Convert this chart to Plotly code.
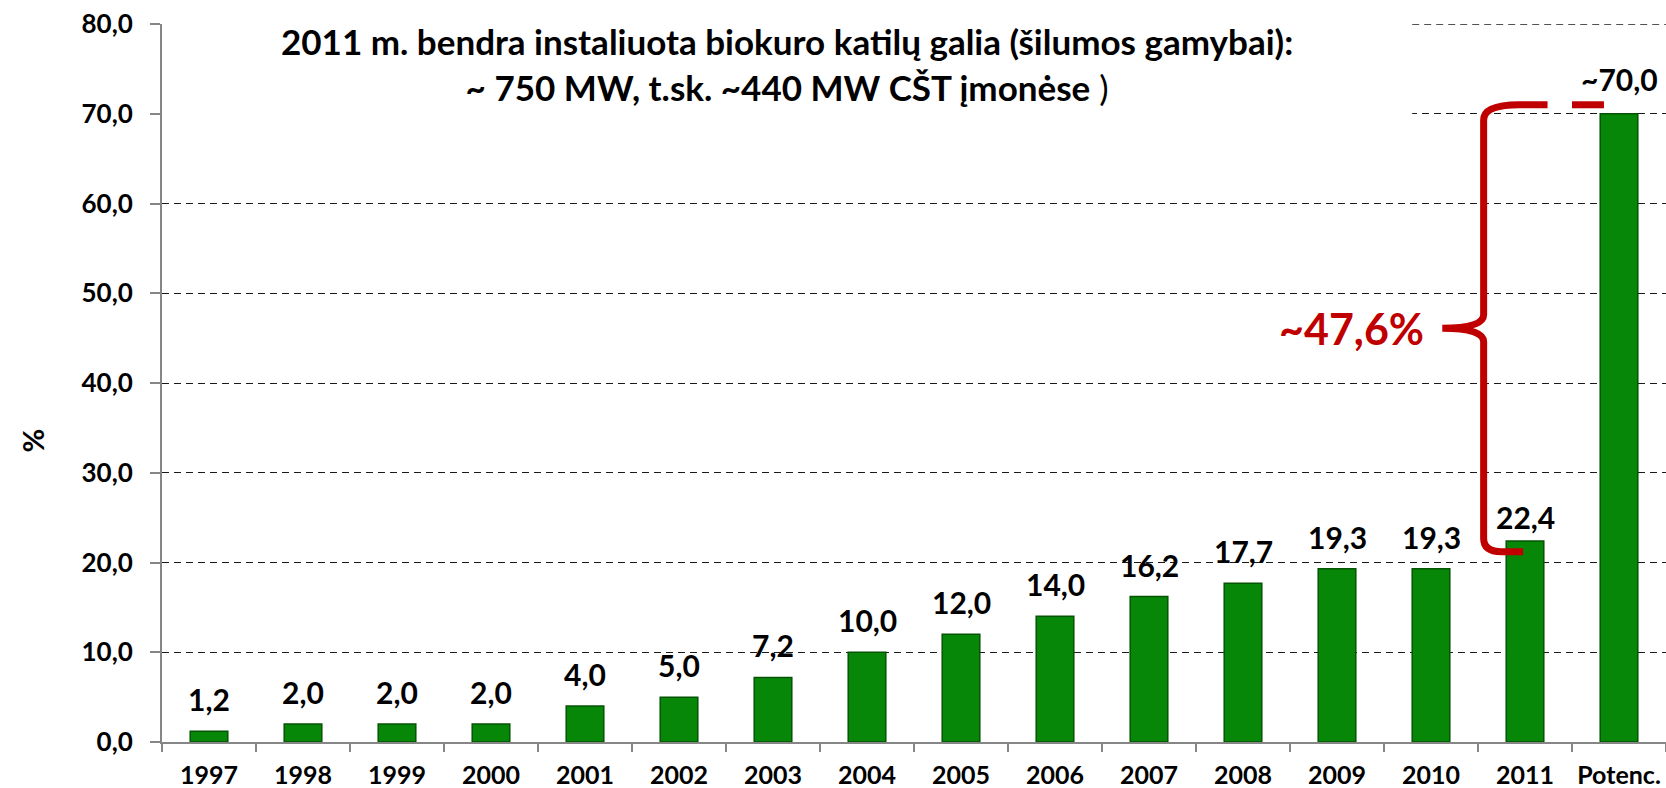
import plotly.graph_objects as go

# ---------------- data ----------------
categories = ["1997", "1998", "1999", "2000", "2001", "2002", "2003", "2004",
              "2005", "2006", "2007", "2008", "2009", "2010", "2011", "Potenc."]
values = [1.2, 2.0, 2.0, 2.0, 4.0, 5.0, 7.2, 10.0, 12.0, 14.0, 16.2, 17.7,
          19.3, 19.3, 22.4, 70.0]
label_prefix = [""] * 15 + ["~"]
y_tick_values = [0, 10, 20, 30, 40, 50, 60, 70, 80]
title_line1 = "2011 m. bendra instaliuota biokuro katilų galia (šilumos gamybai):"
title_line2 = "~ 750 MW, t.sk. ~440 MW CŠT įmonėse"
y_title = "%"


def fmt(v):
    return f"{v:.1f}".replace(".", ",")


labels = [p + fmt(v) for p, v in zip(label_prefix, values)]
gap_value = values[-1] - values[-2]
brace_label = "~" + fmt(gap_value) + "%"

FONT = "Lato"
GREEN = "#078707"
RED = "#C00000"

fig = go.Figure()
fig.add_trace(go.Bar(
    x=categories, y=values,
    marker=dict(color=GREEN, line=dict(color="#045404", width=1.5)),
    hoverinfo="skip",
))

# data labels above the bars (category index positions)
label_shift_adjust = {14: -8, 15: 3}
for i, (v, t) in enumerate(zip(values, labels)):
    fig.add_annotation(x=i, y=v, text=f"<b>{t}</b>", showarrow=False,
                       xanchor="center", yanchor="bottom",
                       yshift=12 + label_shift_adjust.get(i, 0),
                       font=dict(family=FONT, size=30, color="black"))

# title (white box hides top gridlines behind it)
fig.add_shape(type="rect", xref="x", yref="y", x0=-0.5, x1=12.8, y0=65, y1=81,
              fillcolor="white", line=dict(width=0), layer="between")
# top gridline visible to the right of the title box
fig.add_shape(type="line", xref="x", yref="y", x0=12.8, x1=15.5, y0=80, y1=80,
              line=dict(color="#1a1a1a", width=1.3, dash="7px,5px"), layer="between")
fig.add_annotation(xref="paper", yref="paper", x=0.4156, y=0.944,
                   xanchor="center", yanchor="middle", showarrow=False,
                   text=f"<b>{title_line1}</b><br><b>{title_line2}</b> )",
                   font=dict(family=FONT, size=35, color="black"))

# brace between 2011 value and potential
xv, xc, xb, xt = 13.56, 13.12, 13.98, 14.24
yb = values[-2] - 1.2
yt = values[-1] + 1.0
ym = (yb + yt) / 2
path = (f"M {xb},{yb} L 13.75,{yb} Q {xv},{yb} {xv},{yb + 1.5} "
        f"L {xv},{ym - 1.5} Q {xv},{ym} {xc},{ym} "
        f"Q {xv},{ym} {xv},{ym + 1.5} "
        f"L {xv},{yt - 1.7} Q {xv},{yt} {xv + 0.38},{yt} L {xt},{yt}")
fig.add_shape(type="path", xref="x", yref="y", path=path,
              line=dict(color=RED, width=7), layer="above")
fig.add_shape(type="line", xref="x", yref="y", x0=14.5, x1=14.84, y0=yt, y1=yt,
              line=dict(color=RED, width=7), layer="above")
fig.add_annotation(xref="x", yref="y", x=xc - 0.17, y=ym, text=f"<b>{brace_label}</b>",
                   showarrow=False, xanchor="right", yanchor="middle",
                   font=dict(family=FONT, size=43, color=RED))

# y axis title
fig.add_annotation(xref="paper", yref="paper", x=-0.0864, y=0.42, text=f"<b>{y_title}</b>",
                   showarrow=False, textangle=-90, xanchor="center", yanchor="middle",
                   font=dict(family=FONT, size=29, color="black"))

fig.update_layout(
    width=1666, height=788,
    margin=dict(l=162, r=0, t=24, b=46),
    paper_bgcolor="white", plot_bgcolor="white",
    separators=", ",
    bargap=0.6,
    showlegend=False,
    font=dict(family=FONT, color="black"),
)
fig.update_xaxes(
    type="category", range=[-0.5, len(categories) - 0.5], tickson="boundaries",
    ticks="outside", ticklen=8, tickwidth=1.5, tickcolor="#868686",
    showline=True, linecolor="#868686", linewidth=2,
    showgrid=False, zeroline=False, tickangle=0,
    tickfont=dict(family=FONT, size=25, color="black", weight="bold"),
    ticklabelstandoff=10,
)
fig.update_yaxes(
    range=[0, 80], tickvals=y_tick_values, tickformat=".1f",
    ticks="outside", ticklen=10, tickwidth=1.5, tickcolor="#868686",
    showline=True, linecolor="#868686", linewidth=2,
    showgrid=True, gridcolor="#1a1a1a", gridwidth=1.3, griddash="7px,5px",
    zeroline=False,
    tickfont=dict(family=FONT, size=26, color="black", weight="bold"),
    ticklabelstandoff=12,
)

fig.write_html("out.html", config={"displayModeBar": False},
               post_script="document.body.style.margin='0';document.body.style.overflow='hidden';")
